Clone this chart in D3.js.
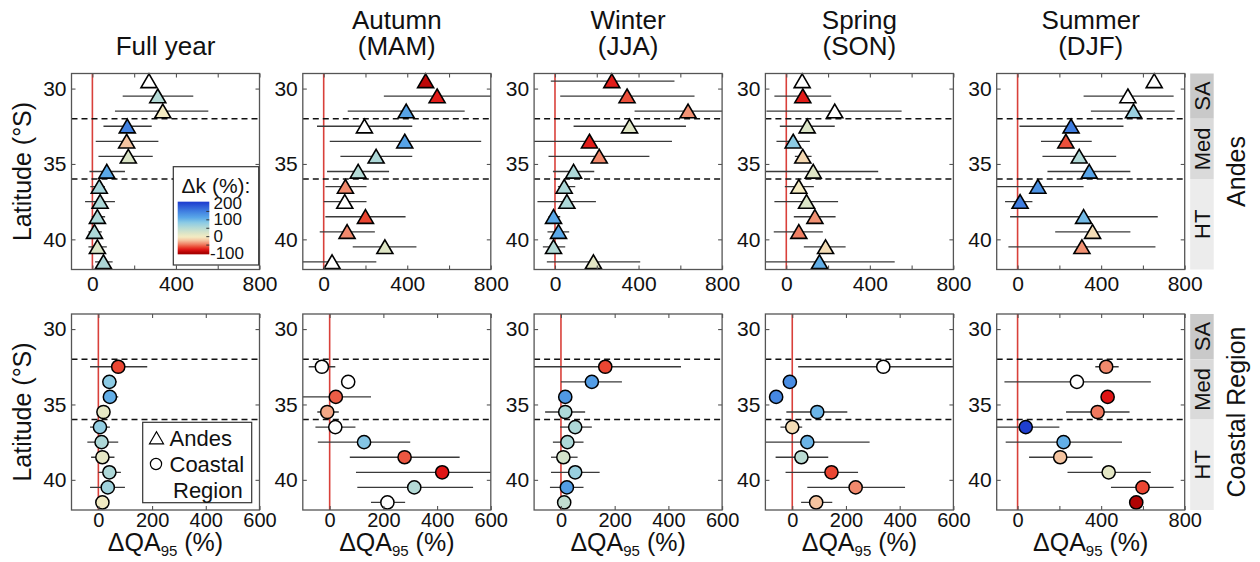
<!DOCTYPE html>
<html><head><meta charset="utf-8">
<script src="https://cdn.jsdelivr.net/npm/d3@7"></script>
<style>
body{margin:0;background:#fff;}
svg{font-family:"Liberation Sans", Arial, sans-serif;}
</style></head><body>
<svg id="fig" width="1260" height="562"></svg>
<script>
// ---- data ----
const seasonTitles = [["Full year"], ["Autumn", "(MAM)"], ["Winter", "(JJA)"], ["Spring", "(SON)"], ["Summer", "(DJF)"]];
const andesLat = [29.5, 30.5, 31.5, 32.5, 33.5, 34.5, 35.5, 36.5, 37.5, 38.5, 39.5, 40.5, 41.5];
const coastLat = [32.5, 33.5, 34.5, 35.5, 36.5, 37.5, 38.5, 39.5, 40.5, 41.5];

// Andes: median change in QA95 (%) per season, with its range and the change in k (%)
const andesQA95 = [
  [271, 313, 337, 167, 164, 172, 69, 33, 37, 24, 10, 24, 53],
  [488, 543, 395, 195, 388, 251, 165, 104, 101, 200, 112, 293, 40],
  [272, 345, 637, 357, 165, 212, 89, 44, 57, -7, 17, -7, 184],
  [76, 79, 232, 100, 33, 79, 129, 60, 97, 137, 60, 188, 159],
  [654, 528, 555, 256, 231, 295, 343, 97, 12, 316, 359, 308, null]
];
const andesLow = [
  [null, 145, 108, 53, 16, 29, -14, -10, -35, -3, -19, -19, 13],
  [null, 288, 115, -32, 29, 80, 16, 8, 0, 8, -19, 139, -110],
  [-20, 25, 381, 89, -110, -31, -10, 14, -84, -31, -36, -58, -39],
  [null, -57, -95, -31, -47, 41, -110, -7, -57, 36, -60, 84, -110],
  [null, 316, 351, 9, 112, 119, 143, -110, -60, -36, 180, -44, null]
];
const andesHigh = [
  [null, 483, 555, 284, 316, 289, 156, 60, 108, 61, 45, 69, 97],
  [null, 830, 675, 424, 754, 424, 313, 205, 205, 392, 245, 444, 252],
  [572, 668, 830, 627, 560, 452, 188, 97, 196, 25, 68, 49, 408],
  [null, 215, 552, 232, 113, 121, 440, 132, 248, 236, 175, 284, 519],
  [null, 747, 752, 507, 355, 472, 540, 316, 71, 671, 540, 660, null]
];
const andesDk = [
  [null, 50, -5, 145, -25, 18, 110, 60, 55, 55, 55, 18, 55],
  [-92, -78, 115, null, 115, 55, 50, -45, null, -65, -45, 15, null],
  [-78, -62, -42, 15, -78, -45, 55, 55, 55, 110, 110, 50, 10],
  [null, -78, null, 18, 80, -15, 15, -5, 18, -42, -48, -12, 105],
  [null, null, 70, 150, -62, 52, 115, 130, 150, 95, -12, -42, null]
];

// Coastal Region
const coastQA95 = [
  [74, 41, 43, 19, 6, 12, 15, 41, 35, 15],
  [-29, 69, 23, -9, 21, 128, 279, 419, 315, 215],
  [165, 115, 16, 16, 53, 24, 9, 53, 22, 12],
  [339, -9, -60, 93, 0, 56, 34, 146, 236, 89],
  [424, 284, 431, 383, 39, 220, 204, 436, 598, 568]
];
const coastLow = [
  [-31, 25, 31, null, -31, -41, -27, 0, -31, -5],
  [-78, null, -110, -46, -53, -44, 75, 98, 103, 154],
  [-110, 0, null, -59, -3, -30, -37, -37, -41, null],
  [22, null, null, -22, -44, -110, -62, -25, 56, 33],
  [372, -63, null, 232, -110, -57, 55, 239, 447, null]
];
const coastHigh = [
  [182, 68, 74, null, 43, 74, 60, 84, 99, 35],
  [21, null, 154, 34, 96, 300, 484, 620, 534, 281],
  [447, 227, null, 90, 115, 84, 62, 144, 84, null],
  [620, null, null, 205, 37, 288, 134, 245, 420, 149],
  [484, 638, null, 536, 200, 500, 359, 638, 747, null]
];
const coastDk = [
  [-65, 80, 105, 8, 75, 55, 8, 55, 65, -3],
  [null, null, -58, -35, null, 85, -60, -80, 50, null],
  [-65, 120, 125, 55, 55, 55, 25, 70, 120, 40],
  [null, 135, 140, 100, -12, 100, 45, -65, -45, -25],
  [-45, null, -80, -50, 200, 105, -25, 10, -65, -97]
];

// axes
const topXDomain = [-100, 800];
const topXTicks = [0, 200, 400, 600, 800];
const topXLabels = [0, 400, 800];
const bottomXDomains = [[-100, 600], [-100, 600], [-100, 600], [-100, 600], [-100, 800]];
const bottomXTicks = [[0, 200, 400, 600], [0, 200, 400, 600], [0, 200, 400, 600], [0, 200, 400, 600], [0, 200, 400, 600, 800]];
const bottomXLabels = [[0, 200, 400, 600], [0, 200, 400, 600], [0, 200, 400, 600], [0, 200, 400, 600], [0, 400, 800]];
const latDomain = [29, 42];
const latTicks = [30, 35, 40];
const zoneEdges = [29, 32, 36, 42];
const zoneNames = ["SA", "Med", "HT"];
const zoneFills = ["#c9c9c9", "#dadada", "#ececec"];
const rowNames = ["Andes", "Coastal Region"];

// colour map for the change in k (%)
const dkStops = [-100, -80, -65, -45, -25, -5, 15, 50, 80, 110, 150, 200];
const dkColors = ["#a80000", "#e01515", "#ea4632", "#f1896c", "#f5c4a0", "#f4ebc2", "#dfe6c6", "#b4dad6", "#8ccbe4", "#5aa8e8", "#3f7de0", "#1f3fd0"];
const dkTicks = [200, 100, 0, -100];

// ---- layout ----
const svg = d3.select("#fig");
const panelW = 188, panelH = 196;
const colX = i => 71.5 + i * 231.3;
const rowY = [73.5, 314];
const font = "'Liberation Sans', Arial, sans-serif";

const dkColor = d3.scaleLinear().domain(dkStops).range(dkColors).clamp(true);
const fillOf = v => v == null ? "#ffffff" : dkColor(v);
const triPath = "M0,-7.1L8,6.6L-8,6.6Z";

function drawPanel(row, col, lats, qa, lo, hi, dk, xDomain, xTicks, xLabels, marker) {
  const g = svg.append("g").attr("transform", `translate(${colX(col)},${rowY[row]})`);
  const x = d3.scaleLinear().domain(xDomain).range([0, panelW]);
  const y = d3.scaleLinear().domain(latDomain).range([0, panelH]);
  const clipId = `clip-${row}-${col}`;
  g.append("clipPath").attr("id", clipId).append("rect").attr("width", panelW).attr("height", panelH);

  const plot = g.append("g").attr("clip-path", `url(#${clipId})`);
  // zero line
  plot.append("line").attr("x1", x(0)).attr("x2", x(0)).attr("y1", 0).attr("y2", panelH)
    .attr("stroke", "#d9403a").attr("stroke-width", 1.6);
  // climate zone boundaries
  plot.selectAll(".zone").data(zoneEdges.slice(1, -1)).join("line")
    .attr("x1", 0).attr("x2", panelW).attr("y1", d => y(d)).attr("y2", d => y(d))
    .attr("stroke", "#111").attr("stroke-width", 1.5).attr("stroke-dasharray", "6,4");

  const pts = lats.map((lat, i) => ({lat, v: qa[i], lo: lo[i], hi: hi[i], dk: dk[i]})).filter(d => d.v != null);
  plot.selectAll(".err").data(pts.filter(d => d.lo != null)).join("line")
    .attr("x1", d => x(d.lo)).attr("x2", d => x(d.hi))
    .attr("y1", d => y(d.lat)).attr("y2", d => y(d.lat))
    .attr("stroke", "#3a3a3a").attr("stroke-width", 1.3);

  const mk = g.append("g");
  if (marker === "tri") {
    mk.selectAll("path").data(pts).join("path")
      .attr("d", triPath)
      .attr("transform", d => `translate(${x(d.v)},${y(d.lat)})`)
      .attr("fill", d => fillOf(d.dk)).attr("stroke", "#000").attr("stroke-width", 1.6)
      .attr("stroke-linejoin", "miter");
  } else {
    mk.selectAll("circle").data(pts).join("circle")
      .attr("cx", d => x(d.v)).attr("cy", d => y(d.lat)).attr("r", 6.6)
      .attr("fill", d => fillOf(d.dk)).attr("stroke", "#000").attr("stroke-width", 1.5);
  }

  // axes with inward ticks on all sides
  const styleAxis = (a, size) => {
    a.select(".domain").remove();
    a.selectAll(".tick line").attr("stroke", "#555").attr("stroke-width", 1.1);
    a.selectAll("text").attr("fill", "#111").style("font-family", font).style("font-size", size + "px");
  };
  g.append("g").attr("transform", `translate(0,${panelH})`)
    .call(d3.axisBottom(x).tickValues(xTicks).tickSize(-4).tickPadding(row === 0 ? 7 : 3)
      .tickFormat(d => xLabels.includes(d) ? d : ""))
    .call(a => styleAxis(a, row === 0 ? 21 : 20));
  g.append("g")
    .call(d3.axisTop(x).tickValues(xTicks).tickSize(-4).tickFormat(""))
    .call(a => styleAxis(a, 21));
  g.append("g")
    .call(d3.axisLeft(y).tickValues(latTicks).tickSize(-4).tickPadding(5))
    .call(a => styleAxis(a, 21));
  g.append("g").attr("transform", `translate(${panelW},0)`)
    .call(d3.axisRight(y).tickValues(latTicks).tickSize(-4).tickFormat(""))
    .call(a => styleAxis(a, 21));

  g.append("rect").attr("width", panelW).attr("height", panelH)
    .attr("fill", "none").attr("stroke", "#555").attr("stroke-width", 1.3);
  return {g, x, y};
}

const panels = [[], []];
for (let c = 0; c < 5; c++) {
  panels[0][c] = drawPanel(0, c, andesLat, andesQA95[c], andesLow[c], andesHigh[c], andesDk[c],
    topXDomain, topXTicks, topXLabels, "tri");
  panels[1][c] = drawPanel(1, c, coastLat, coastQA95[c], coastLow[c], coastHigh[c], coastDk[c],
    bottomXDomains[c], bottomXTicks[c], bottomXLabels[c], "circ");
}

// season titles
seasonTitles.forEach((lines, c) => {
  const cx = colX(c) + panelW / 2;
  lines.forEach((t, k) => {
    svg.append("text").attr("x", cx).attr("y", 55 - (lines.length - 1 - k) * 26)
      .attr("text-anchor", "middle").style("font-family", font).style("font-size", "26px")
      .attr("fill", "#111").text(t);
  });
});

// y labels
rowY.forEach(ry => {
  svg.append("text").attr("transform", `translate(31,${ry + panelH / 2}) rotate(-90)`)
    .attr("text-anchor", "middle").style("font-family", font).style("font-size", "25px")
    .attr("fill", "#111").text("Latitude (°S)");
});

// x labels
for (let c = 0; c < 5; c++) {
  const t = svg.append("text").attr("x", colX(c) + panelW / 2).attr("y", 551)
    .attr("text-anchor", "middle").style("font-family", font).style("font-size", "25px").attr("fill", "#111");
  t.append("tspan").text("ΔQA");
  t.append("tspan").attr("dy", 5).style("font-size", "15px").text("95");
  t.append("tspan").attr("dy", -5).text(" (%)");
}

// zone strips and row names on the right
const stripX = colX(4) + panelW + 5.5, stripW = 23.5;
rowY.forEach((ry, r) => {
  const y = panels[r][4].y;
  zoneNames.forEach((name, k) => {
    const y0 = ry + y(zoneEdges[k]), y1 = ry + y(zoneEdges[k + 1]);
    svg.append("rect").attr("x", stripX).attr("y", y0).attr("width", stripW).attr("height", y1 - y0)
      .attr("fill", zoneFills[k]);
    svg.append("text").attr("transform", `translate(${stripX + stripW / 2},${(y0 + y1) / 2}) rotate(-90)`)
      .attr("text-anchor", "middle").attr("dy", "0.36em")
      .style("font-family", font).style("font-size", "22px").attr("fill", "#111").text(name);
  });
  svg.append("text").attr("transform", `translate(${1236},${ry + panelH / 2}) rotate(-90)`)
    .attr("text-anchor", "middle").attr("dy", "0.36em")
    .style("font-family", font).style("font-size", "25px").attr("fill", "#111").text(rowNames[r]);
});

// colour bar legend (first Andes panel)
{
  const g = panels[0][0].g;
  g.append("rect").attr("x", 101.8).attr("y", 93.2).attr("width", 85.4).attr("height", 98.3)
    .attr("fill", "#fff").attr("stroke", "#333").attr("stroke-width", 1.2);
  g.append("text").attr("x", 144.5).attr("y", 119).attr("text-anchor", "middle")
    .style("font-family", font).style("font-size", "21px").attr("fill", "#111").text("Δk (%):");
  const cb = d3.scaleLinear().domain([-100, 200]).range([179.5, 129]);
  const grad = svg.append("defs").append("linearGradient").attr("id", "dkGrad")
    .attr("x1", 0).attr("x2", 0).attr("y1", 1).attr("y2", 0);
  const cbLo = -108, cbHi = 205;
  d3.range(0, 1.0001, 0.02).forEach(t => {
    grad.append("stop").attr("offset", t).attr("stop-color", dkColor(cbLo + t * (cbHi - cbLo)));
  });
  g.append("rect").attr("x", 106.2).attr("y", cb(cbHi)).attr("width", 31.6).attr("height", cb(cbLo) - cb(cbHi))
    .attr("fill", "url(#dkGrad)");
  g.append("g").attr("transform", "translate(137.8,0)")
    .call(d3.axisRight(cb).tickValues([-50, 0, 50, 100, 150]).tickSize(-3).tickFormat(""))
    .call(a => { a.select(".domain").remove(); a.selectAll("line").attr("stroke", "#333"); });
  g.selectAll(".cbl").data(dkTicks).join("text")
    .attr("x", d => d < 0 ? 138.5 : 142).attr("y", d => cb(d)).attr("dy", "0.36em")
    .style("font-family", font).style("font-size", "17px").attr("fill", "#111").text(d => d);
}

// marker legend (first coastal panel)
{
  const g = panels[1][0].g;
  g.append("rect").attr("x", 71.2).attr("y", 108.3).attr("width", 109).attr("height", 80.4)
    .attr("fill", "#fff").attr("stroke", "#333").attr("stroke-width", 1.2);
  g.append("path").attr("d", "M0,-6.2L7,5.8L-7,5.8Z").attr("transform", "translate(85,124)")
    .attr("fill", "#fff").attr("stroke", "#000").attr("stroke-width", 1.2);
  g.append("circle").attr("cx", 84.5).attr("cy", 150).attr("r", 5.6)
    .attr("fill", "#fff").attr("stroke", "#000").attr("stroke-width", 1.2);
  [["Andes", 98, 132], ["Coastal", 98, 158], ["Region", 101.5, 184]].forEach(([t, lx, ly]) => {
    g.append("text").attr("x", lx).attr("y", ly).style("font-family", font).style("font-size", "22px")
      .attr("fill", "#111").text(t);
  });
}
</script>
</body></html>
